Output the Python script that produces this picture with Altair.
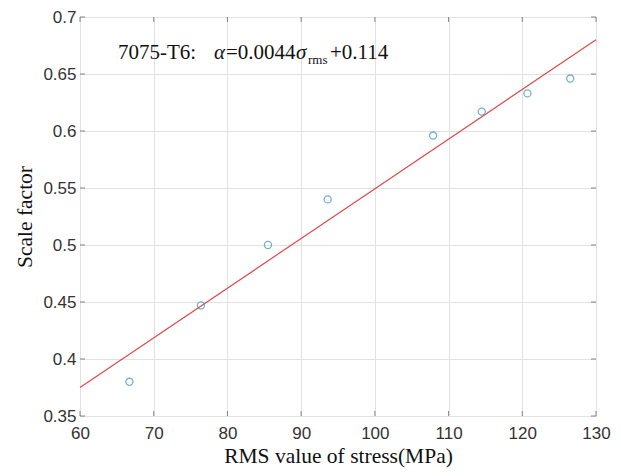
import altair as alt
import pandas as pd

# Data
rms_stress = [66.7, 76.4, 85.5, 93.6, 107.9, 114.5, 120.7, 126.5]
scale_factor = [0.380, 0.447, 0.500, 0.540, 0.596, 0.617, 0.633, 0.646]
fit_stress = [60, 130]
fit_scale = [0.375, 0.680]
x_ticks = [60, 70, 80, 90, 100, 110, 120, 130]
y_ticks = [0.35, 0.4, 0.45, 0.5, 0.55, 0.6, 0.65, 0.7]

W, H = 516, 399

pts = pd.DataFrame({"x": rms_stress, "y": scale_factor})
fit = pd.DataFrame({"x": fit_stress, "y": fit_scale})
xt = pd.DataFrame({"x": x_ticks})
yt = pd.DataFrame({"y": y_ticks})
one = pd.DataFrame({"a": [0]})

xscale = alt.Scale(domain=[60, 130], nice=False, zero=False)
yscale = alt.Scale(domain=[0.35, 0.7], nice=False, zero=False)

common_axis = dict(
    ticks=False, domain=False, grid=True, gridColor="#e2e2e2", gridWidth=1,
    labelFont="Liberation Sans", labelFontSize=17, labelColor="#333333",
    labelOverlap=False, labelFlush=False,
    titleFont="Liberation Serif", titleFontSize=21.5, titleFontWeight="normal",
    titleColor="#111111",
)
xaxis = alt.Axis(values=x_ticks, format="d", title="RMS value of stress(MPa)",
                 labelPadding=9, titlePadding=4, **common_axis)
yaxis = alt.Axis(values=y_ticks, format="~g", title="Scale factor",
                 labelPadding=4, titlePadding=6, **common_axis)

X = alt.X("x:Q", scale=xscale, axis=xaxis)
Y = alt.Y("y:Q", scale=yscale, axis=yaxis)

line = alt.Chart(fit).mark_line(color="#dc4a4a", strokeWidth=1.2).encode(x=X, y=Y)
points = alt.Chart(pts).mark_point(shape="circle", filled=False, size=50,
                                   strokeWidth=1.3, color="#3d8fb8").encode(x=X, y=Y)

tick_style = dict(color="#555555", size=5, thickness=1)
bt = alt.Chart(xt).mark_tick(**tick_style).encode(x=X, y=alt.value(H - 2.5))
tt = alt.Chart(xt).mark_tick(**tick_style).encode(x=X, y=alt.value(2.5))
lt = alt.Chart(yt).mark_tick(**tick_style).encode(y=Y, x=alt.value(2.5))
rt = alt.Chart(yt).mark_tick(**tick_style).encode(y=Y, x=alt.value(W - 2.5))


def txt(s, px, py, size=21, style="normal"):
    return alt.Chart(one).mark_text(
        text=s, align="left", baseline="alphabetic", font="Liberation Serif",
        fontSize=size, fontStyle=style, color="#111111"
    ).encode(x=alt.value(px), y=alt.value(py))


ann = [
    txt("7075-T6:", 38, 42),
    txt("α", 134, 42, style="italic"),
    txt("=0.0044", 146, 42),
    txt("σ", 216, 42, style="italic"),
    txt("rms", 228, 47, size=13),
    txt("+0.114", 250, 42),
]

chart = alt.layer(line, points, bt, tt, lt, rt, *ann).properties(
    width=W, height=H,
    autosize=alt.AutoSizeParams(type="none"),
    padding={"left": 72, "top": 9, "right": 17, "bottom": 52},
).configure_view(stroke="#6b6b6b", strokeWidth=1).configure(background="white")

chart.save("out.html", embed_options={"renderer": "svg", "actions": False})
